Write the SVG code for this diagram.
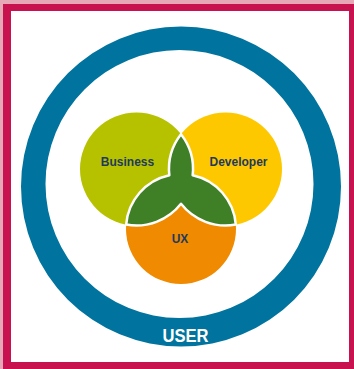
<svg xmlns="http://www.w3.org/2000/svg" width="354" height="369" viewBox="0 0 354 369">
  <style>
    .label { font-family: "Liberation Sans", Arial, sans-serif; font-weight: bold; text-anchor: middle; }
    .dark { fill: #1f3a5c; font-size: 12px; }
    .light { fill: #ffffff; font-size: 19px; }
    .sep { stroke: #ffffff; stroke-width: 2.5; stroke-linejoin: round; }
  </style>

  <!-- frame: pale outer edge, crimson border, white panel -->
  <g id="frame">
    <rect x="0" y="0" width="354" height="369" fill="#e6a8b7"/>
    <rect x="3" y="4" width="351" height="365" fill="#c8124f"/>
    <rect x="11" y="11" width="338" height="351" fill="#ffffff"/>
  </g>

  <!-- USER ring -->
  <g id="user">
    <path fill="#00749e" fill-rule="evenodd"
          d="M 21 186.5 A 160 160 0 1 0 341 186.5 A 160 160 0 1 0 21 186.5 Z
             M 45.5 184 A 134 134 0 1 0 313.5 184 A 134 134 0 1 0 45.5 184 Z"/>
    <text class="label light" x="185.5" y="341.5" textLength="46" lengthAdjust="spacingAndGlyphs">USER</text>
  </g>

  <!-- three circles -->
  <g id="business">
    <circle cx="136.5" cy="169" r="56.5" fill="#b6c200"/>
  </g>
  <g id="developer">
    <circle cx="225.5" cy="169" r="56.5" fill="#fec800"/>
  </g>
  <g id="ux">
    <circle cx="181" cy="229" r="55" fill="#f08a00"/>
  </g>

  <!-- shared area: union of the pairwise overlaps -->
  <g id="overlap">
    <path class="sep" fill="#3f7f26"
          d="M 181 134.19
             A 56.5 56.5 0 0 0 169.34 175.25
             A 55 55 0 0 0 126.18 224.55
             A 56.5 56.5 0 0 0 181 203.81
             A 56.5 56.5 0 0 0 235.82 224.55
             A 55 55 0 0 0 192.66 175.25
             A 56.5 56.5 0 0 0 181 134.19 Z"/>
  </g>

  <g id="labels">
    <text class="label dark" x="127.5" y="166">Business</text>
    <text class="label dark" x="238.5" y="166">Developer</text>
    <text class="label dark" x="180" y="243">UX</text>
  </g>
</svg>
